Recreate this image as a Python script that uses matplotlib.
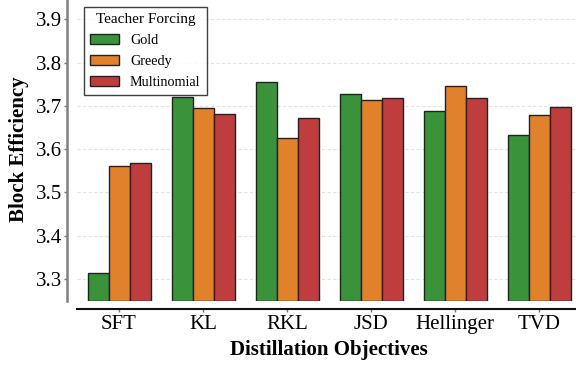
import numpy as np
import matplotlib
matplotlib.use("Agg")
import matplotlib.pyplot as plt

plt.rcParams["font.family"] = ["Liberation Serif", "DejaVu Serif"]

objectives = ["SFT", "KL", "RKL", "JSD", "Hellinger", "TVD"]
forcing = ["Gold", "Greedy", "Multinomial"]
gold = [3.315, 3.721, 3.754, 3.728, 3.689, 3.633]
greedy = [3.562, 3.695, 3.625, 3.714, 3.745, 3.679]
multinomial = [3.567, 3.682, 3.672, 3.718, 3.717, 3.698]
colors = ["#3a923a", "#e1812c", "#c03d3e"]

fig = plt.figure(figsize=(5.76, 3.68), dpi=100)
W, H = 576, 368
ax = fig.add_axes([77 / W, (H - 300.7) / H, 504 / W, 303.1 / H])

x = np.arange(len(objectives))
width = 0.75 / 3
series = [gold, greedy, multinomial]
for i, (name, vals, c) in enumerate(zip(forcing, series, colors)):
    ax.bar(x + (i - 1) * width, np.array(vals) - 3.25, width, bottom=3.25,
           color=c, edgecolor="#222222", linewidth=1.0, label=name, zorder=3)

ax.set_xlim(-0.5, 5.5)
ax.set_ylim(3.25, 3.95)
ax.set_yticks([3.3, 3.4, 3.5, 3.6, 3.7, 3.8, 3.9])
ax.set_xticks(x)
ax.set_xticklabels(objectives)
ax.tick_params(axis="y", labelsize=15, length=2, width=1, color="#777777", pad=1.5)
ax.tick_params(axis="x", labelsize=15, length=2, width=1, color="#777777", pad=2.5)

ax.yaxis.grid(True, linestyle=(0, (3, 2)), color="#e3e3e3", linewidth=0.8, zorder=0)
ax.set_axisbelow(True)

for s in ["top", "right"]:
    ax.spines[s].set_visible(False)
ax.spines["left"].set_position(("outward", 7))
ax.spines["left"].set_color("#808080")
ax.spines["left"].set_linewidth(1.8)
ax.spines["bottom"].set_position(("outward", 6))
ax.spines["bottom"].set_color("#111111")
ax.spines["bottom"].set_linewidth(1.5)

ax.set_xlabel("Distillation Objectives", fontsize=15, fontweight="bold", labelpad=4)
ax.set_ylabel("Block Efficiency", fontsize=15, fontweight="bold", labelpad=5)

leg = ax.legend(title="Teacher Forcing", loc="upper left",
                bbox_to_anchor=(7 / 504, (303.1 - 9.4) / 303.1),
                borderaxespad=0.0,
                fontsize=10.2, title_fontsize=11, frameon=True, fancybox=False,
                edgecolor="#111111", handlelength=2.0, handleheight=0.7,
                labelspacing=0.55, borderpad=0.45)
leg.get_frame().set_linewidth(1.0)

fig.savefig("out.png", dpi=100)
